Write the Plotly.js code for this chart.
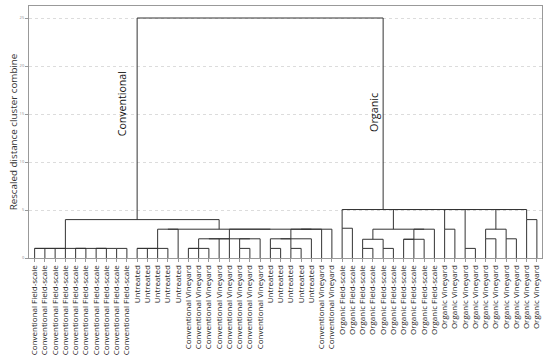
<!DOCTYPE html>
<html><head><meta charset="utf-8">
<script src="https://cdn.plot.ly/plotly-3.0.1.min.js"></script>
<style>html,body{margin:0;padding:0;background:#fff}#chart{width:550px;height:360px}</style>
</head><body><div id="chart"></div>
<script>
// Leaf labels in dendrogram order (left to right)
const leafLabels = [
  'Conventional Field-scale','Conventional Field-scale','Conventional Field-scale','Conventional Field-scale','Conventional Field-scale',
  'Conventional Field-scale','Conventional Field-scale','Conventional Field-scale','Conventional Field-scale','Conventional Field-scale',
  'Untreated','Untreated','Untreated','Untreated','Untreated',
  'Conventional Vineyard','Conventional Vineyard','Conventional Vineyard','Conventional Vineyard',
  'Conventional Vineyard','Conventional Vineyard','Conventional Vineyard','Conventional Vineyard',
  'Untreated','Untreated','Untreated','Untreated','Untreated',
  'Conventional Vineyard','Conventional Vineyard',
  'Organic Field-scale','Organic Field-scale','Organic Field-scale','Organic Field-scale','Organic Field-scale',
  'Organic Field-scale','Organic Field-scale','Organic Field-scale','Organic Field-scale','Organic Field-scale',
  'Organic Vineyard','Organic Vineyard','Organic Vineyard','Organic Vineyard','Organic Vineyard',
  'Organic Vineyard','Organic Vineyard','Organic Vineyard','Organic Vineyard','Organic Vineyard'
];
// Linkage: merge k creates cluster id 50+k from clusters mergeLeft[k] and mergeRight[k]
const mergeLeft  = [0,2,50,4,6,8,54,53,52, 10,59,60, 15,62,20,63,65,64,66, 23,25,69,71, 61,72,74,68,73, 58, 30,32,34,80,36,83,84,82, 40,42,44,46,89,48,87,91,93,86,79, 78];
const mergeRight = [1,3,51,5,7,9,55,56,57, 11,12,13, 16,17,21,18,19,22,67, 24,26,70,27, 14,28,29,75,76, 77, 31,33,35,81,37,38,39,85, 41,43,45,47,90,49,88,92,94,95,96, 97];
const mergeHeight= [1,1,1,1,1,1,1,1,1, 1,1,1, 1,1,1,2,2,2,2, 1,1,2,2, 3,3,3,3,3, 4, 3.1,1,1,1.95,1.95,1.95,3,3, 3,1,2,2,3,4,5.05,5.05,5.05,5.05,5.05, 25];
const yTicks = [0,5,10,15,20,25];

const n = leafLabels.length;
const pos = [], hgt = [];
for (let i = 0; i < n; i++) { pos.push(i); hgt.push(0); }
const xs = [], ys = [];
mergeLeft.forEach((a, k) => {
  const b = mergeRight[k], h = mergeHeight[k];
  xs.push(pos[a], pos[a], pos[b], pos[b], null);
  ys.push(hgt[a], h, h, hgt[b], null);
  pos.push(Math.floor((pos[a] + pos[b]) / 2));
  hgt.push(h);
});

const font = 'Open Sans, sans-serif';
const trace = {
  x: xs, y: ys, type: 'scatter', mode: 'lines',
  line: {color: '#333', width: 1}, hoverinfo: 'skip', connectgaps: false
};
const layout = {
  width: 550, height: 360,
  margin: {l: 29, r: 8, t: 6, b: 102},
  paper_bgcolor: '#fff', plot_bgcolor: '#fff',
  showlegend: false,
  font: {family: font, color: '#333'},
  xaxis: {
    range: [-0.55, 49.5], tickvals: leafLabels.map((_, i) => i), ticktext: leafLabels,
    tickangle: -90, ticks: 'outside', ticklen: 3, tickcolor: '#999',
    tickfont: {size: 8, color: '#222', family: font},
    showline: true, mirror: true, linecolor: '#999', linewidth: 1,
    showgrid: false, zeroline: false, automargin: false, fixedrange: true
  },
  yaxis: {
    range: [0, 26.25], tickvals: yTicks, ticktext: yTicks.map(String),
    ticks: 'outside', ticklen: 3, tickcolor: '#999',
    tickfont: {size: 4, color: '#888', family: font},
    showline: true, mirror: true, linecolor: '#999', linewidth: 1,
    showgrid: true, gridcolor: '#dcdcdc', griddash: 'dot', gridwidth: 1,
    zeroline: false, automargin: false, fixedrange: true,
    title: {text: 'Rescaled distance cluster combine', font: {size: 9.8, color: '#333', family: font}, standoff: 0}
  },
  annotations: [
    {x: 8.6, y: 16.1, xref: 'x', yref: 'y', text: 'Conventional', textangle: -90, showarrow: false,
     font: {size: 10.6, color: '#111', family: font}},
    {x: 33.0, y: 15.2, xref: 'x', yref: 'y', text: 'Organic', textangle: -90, showarrow: false,
     font: {size: 10.8, color: '#111', family: font}}
  ]
};
Plotly.newPlot('chart', [trace], layout, {staticPlot: true, displayModeBar: false});
</script>
</body></html>
